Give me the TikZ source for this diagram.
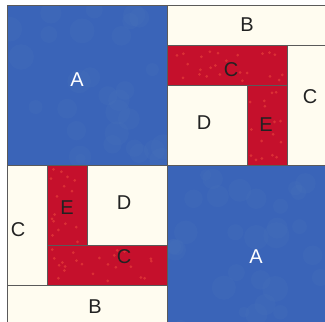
\documentclass[tikz,border=0pt]{standalone}
\usepackage{fontspec}
\setmainfont{Liberation Sans}
\definecolor{qblue}{HTML}{3A64B8}
\definecolor{qblue2}{HTML}{4670B8}
\definecolor{qred}{HTML}{C5102C}
\definecolor{qcream}{HTML}{FFFCF0}
\definecolor{qline}{HTML}{5A5A5A}
\definecolor{qtext}{HTML}{222222}
\definecolor{qdot}{HTML}{EE4A3E}
\begin{document}
\begin{tikzpicture}[x=1pt,y=-1pt,
  patch/.style={draw=qline,line width=0.8pt},
  bluep/.style={patch,fill=qblue},
  redp/.style={patch,fill=qred},
  creamp/.style={patch,fill=qcream},
  lab/.style={font=\fontsize{20}{20}\selectfont,text=qtext,inner sep=0pt},
  labw/.style={lab,text=white}]
\useasboundingbox (0,0) rectangle (325,322);
\fill[white] (0,0) rectangle (325,322);
\clip (0,0) rectangle (325,322);
% top-left A
\fill[qblue] (7,5) rectangle (167,165);
\begin{scope}
  \clip (7,5) rectangle (167,165);
  \pgfmathsetseed{3}
  \foreach \i in {1,...,30} {
    \pgfmathsetmacro{\px}{7+rnd*160}
    \pgfmathsetmacro{\py}{5+rnd*160}
    \fill[qblue2,opacity=0.3] (\px,\py) circle (5+rnd*8);
  }
\end{scope}
\draw[patch] (7,5) rectangle (167,165);
% bottom-right A
\fill[qblue] (167,165) rectangle (327,325);
\begin{scope}
  \clip (167,165) rectangle (327,325);
  \pgfmathsetseed{5}
  \foreach \i in {1,...,30} {
    \pgfmathsetmacro{\px}{167+rnd*160}
    \pgfmathsetmacro{\py}{165+rnd*160}
    \fill[qblue2,opacity=0.3] (\px,\py) circle (5+rnd*8);
  }
\end{scope}
\draw[patch] (167,165) rectangle (327,325);
% top-right unit
\draw[creamp] (167,5) rectangle (327,45);
\draw[redp] (167,45) rectangle (287,85);
\draw[creamp] (167,85) rectangle (247,165);
\draw[redp] (247,85) rectangle (287,165);
\draw[creamp] (287,45) rectangle (327,165);
% bottom-left unit
\draw[creamp] (7,165) rectangle (47,285);
\draw[redp] (47,165) rectangle (87,245);
\draw[creamp] (87,165) rectangle (167,245);
\draw[redp] (47,245) rectangle (167,285);
\draw[creamp] (7,285) rectangle (167,325);
% fabric dots on red patches
\pgfmathsetseed{7}
\foreach \i in {1,...,24} {
  \pgfmathsetmacro{\px}{170+rnd*114}
  \pgfmathsetmacro{\py}{48+rnd*34}
  \fill[qdot,opacity=0.55] (\px,\py) circle (1.5);
}
\foreach \i in {1,...,16} {
  \pgfmathsetmacro{\px}{250+rnd*34}
  \pgfmathsetmacro{\py}{88+rnd*74}
  \fill[qdot,opacity=0.55] (\px,\py) circle (1.5);
}
\foreach \i in {1,...,16} {
  \pgfmathsetmacro{\px}{50+rnd*34}
  \pgfmathsetmacro{\py}{168+rnd*74}
  \fill[qdot,opacity=0.55] (\px,\py) circle (1.5);
}
\foreach \i in {1,...,24} {
  \pgfmathsetmacro{\px}{50+rnd*114}
  \pgfmathsetmacro{\py}{248+rnd*34}
  \fill[qdot,opacity=0.55] (\px,\py) circle (1.5);
}
% labels
\node[labw] (a1) at (77,80) {A};
\node[lab] (b1) at (247,25) {B};
\node[lab] (c1) at (231,70) {C};
\node[lab] (c2) at (310,97) {C};
\node[lab] (d1) at (204,123) {D};
\node[lab] (e1) at (266,125) {E};
\node[lab] (e2) at (67,208) {E};
\node[lab] (d2) at (124,203) {D};
\node[lab] (c3) at (18,230) {C};
\node[lab] (c4) at (124,257) {C};
\node[lab] (b2) at (95,307) {B};
\node[labw] (a2) at (256,257) {A};
\end{tikzpicture}
\end{document}
